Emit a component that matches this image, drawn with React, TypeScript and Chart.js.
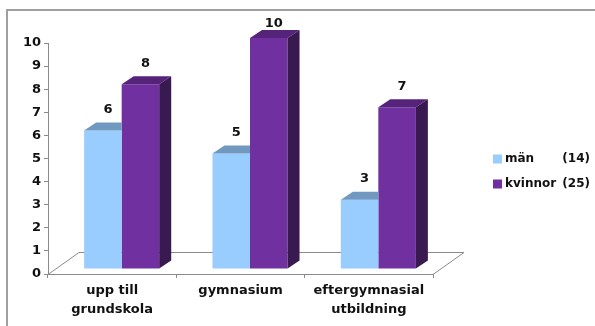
import React, { useEffect, useRef } from "react";
import { Chart, registerables } from "chart.js";

Chart.register(...registerables);

const categories = [["upp till", "grundskola"], "gymnasium", ["eftergymnasial", "utbildning"]];
const menValues = [6, 5, 3];
const womenValues = [8, 10, 7];
const legendNames = ["män", "kvinnor"];
const legendCounts = ["(14)", "(25)"];
const yTicks = [0, 1, 2, 3, 4, 5, 6, 7, 8, 9, 10];

const FONT = "'DejaVu Sans', sans-serif";
const BLUE = "#99CCFF";
const BLUE_TOP = "#7199C0";
const PURPLE = "#7030A0";
const PURPLE_TOP = "#55247A";
const PURPLE_SIDE = "#381950";
const AXIS = "#8a8a8a";

// 3D offsets
const FLOOR_DX = 31, FLOOR_DY = -22;
const BAR_SHIFT_X = 9.5, BAR_SHIFT_Y = -5;
const BAR_DX = 12, BAR_DY = -8;

const threeD = {
  id: "threeD",
  beforeDraw(chart: any) {
    const ctx = chart.ctx;
    ctx.save();
    ctx.fillStyle = "#a0a0a0";
    ctx.fillRect(6, 9, 2, 326);
    ctx.fillRect(6, 9, 595, 2);
    ctx.restore();
  },
  beforeDatasetsDraw(chart: any) {
    const { ctx, chartArea } = chart;
    const l = chartArea.left, r = chartArea.right, b = chartArea.bottom;
    ctx.save();
    ctx.strokeStyle = AXIS;
    ctx.lineWidth = 1;
    ctx.beginPath();
    ctx.moveTo(l, b + 0.5);
    ctx.lineTo(l + FLOOR_DX, b + FLOOR_DY + 0.5);
    ctx.lineTo(r + FLOOR_DX, b + FLOOR_DY + 0.5);
    ctx.lineTo(r, b + 0.5);
    ctx.stroke();
    ctx.restore();
  },
  beforeDatasetDraw(chart: any) {
    chart.ctx.save();
    chart.ctx.translate(BAR_SHIFT_X, BAR_SHIFT_Y);
  },
  afterDatasetDraw(chart: any, args: any) {
    const ctx = chart.ctx;
    const idx = args.index;
    const meta = args.meta;
    meta.data.forEach((el: any) => {
      const { x, y, base, width } = el.getProps(["x", "y", "base", "width"], true);
      const left = x - width / 2, right = x + width / 2;
      ctx.beginPath();
      if (idx === 0) {
        ctx.moveTo(left, y);
        ctx.lineTo(right, y);
        ctx.lineTo(right, y + BAR_DY);
        ctx.lineTo(left + BAR_DX, y + BAR_DY);
      } else {
        ctx.moveTo(left, y);
        ctx.lineTo(right, y);
        ctx.lineTo(right + BAR_DX, y + BAR_DY);
        ctx.lineTo(left + BAR_DX, y + BAR_DY);
      }
      ctx.closePath();
      ctx.fillStyle = idx === 0 ? BLUE_TOP : PURPLE_TOP;
      ctx.fill();
      if (idx === 1) {
        ctx.beginPath();
        ctx.moveTo(right, y);
        ctx.lineTo(right + BAR_DX, y + BAR_DY);
        ctx.lineTo(right + BAR_DX, base + BAR_DY);
        ctx.lineTo(right, base);
        ctx.closePath();
        ctx.fillStyle = PURPLE_SIDE;
        ctx.fill();
      }
    });
    ctx.restore();
    // value labels
    const values = chart.data.datasets[idx].data;
    ctx.save();
    ctx.fillStyle = "#111";
    ctx.font = `bold 13px ${FONT}`;
    ctx.textAlign = "center";
    ctx.textBaseline = "middle";
    meta.data.forEach((el: any, i: number) => {
      const sx = el.x + BAR_SHIFT_X + 5;
      const sy = Math.max(el.y + BAR_SHIFT_Y - 21, 24);
      ctx.fillText(String(values[i]), sx, sy);
    });
    ctx.restore();
  },
  afterDraw(chart: any) {
    const ctx = chart.ctx;
    ctx.save();
    ctx.font = `bold 12px ${FONT}`;
    ctx.textBaseline = "middle";
    const colors = [BLUE, PURPLE];
    const ys = [159, 184];
    for (let i = 0; i < 2; i++) {
      ctx.fillStyle = colors[i];
      ctx.fillRect(493, ys[i] - 4.5, 9, 9);
      ctx.fillStyle = "#111";
      ctx.textAlign = "left";
      ctx.fillText(legendNames[i], 505, ys[i]);
      ctx.textAlign = "right";
      ctx.fillText(legendCounts[i], 590, ys[i]);
    }
    ctx.restore();
  },
};

export default function App() {
  const ref = useRef<HTMLCanvasElement>(null);
  useEffect(() => {
    if (!ref.current) return;
    const chart = new Chart(ref.current, {
      type: "bar",
      data: {
        labels: categories as any,
        datasets: [
          { label: legendNames[0], data: menValues, backgroundColor: BLUE, clip: false as any },
          { label: legendNames[1], data: womenValues, backgroundColor: PURPLE, clip: false as any },
        ],
      },
      options: {
        responsive: false,
        animation: false,
        events: [],
        layout: { padding: { left: 0, right: 162, top: 43, bottom: 0 } },
        datasets: { bar: { categoryPercentage: 0.585, barPercentage: 1 } },
        plugins: { legend: { display: false }, tooltip: { enabled: false } },
        scales: {
          x: {
            afterFit: (s: any) => { s.height = 52; },
            grid: { display: true, drawOnChartArea: false, drawTicks: true, tickLength: 4, color: AXIS, offset: true },
            border: { display: true, color: AXIS },
            ticks: { color: "#111", font: { family: FONT, size: 13, weight: "bold", lineHeight: 1.4 }, padding: 4, maxRotation: 0, autoSkip: false },
          },
          y: {
            min: 0,
            max: 10,
            afterFit: (s: any) => { s.width = 48; },
            afterBuildTicks: (s: any) => { s.ticks = yTicks.map((v) => ({ value: v })); },
            grid: { display: true, drawOnChartArea: false, drawTicks: true, tickLength: 4, color: AXIS },
            border: { display: true, color: AXIS },
            ticks: { color: "#111", font: { family: FONT, size: 13, weight: "bold" }, padding: 3 },
          },
        },
      },
      plugins: [threeD],
    });
    return () => chart.destroy();
  }, []);
  return (
    <div style={{ position: "fixed", left: 0, top: 0, width: 595, height: 326, background: "#fff" }}>
      <canvas ref={ref} width={595} height={326} style={{ display: "block" }} />
    </div>
  );
}
